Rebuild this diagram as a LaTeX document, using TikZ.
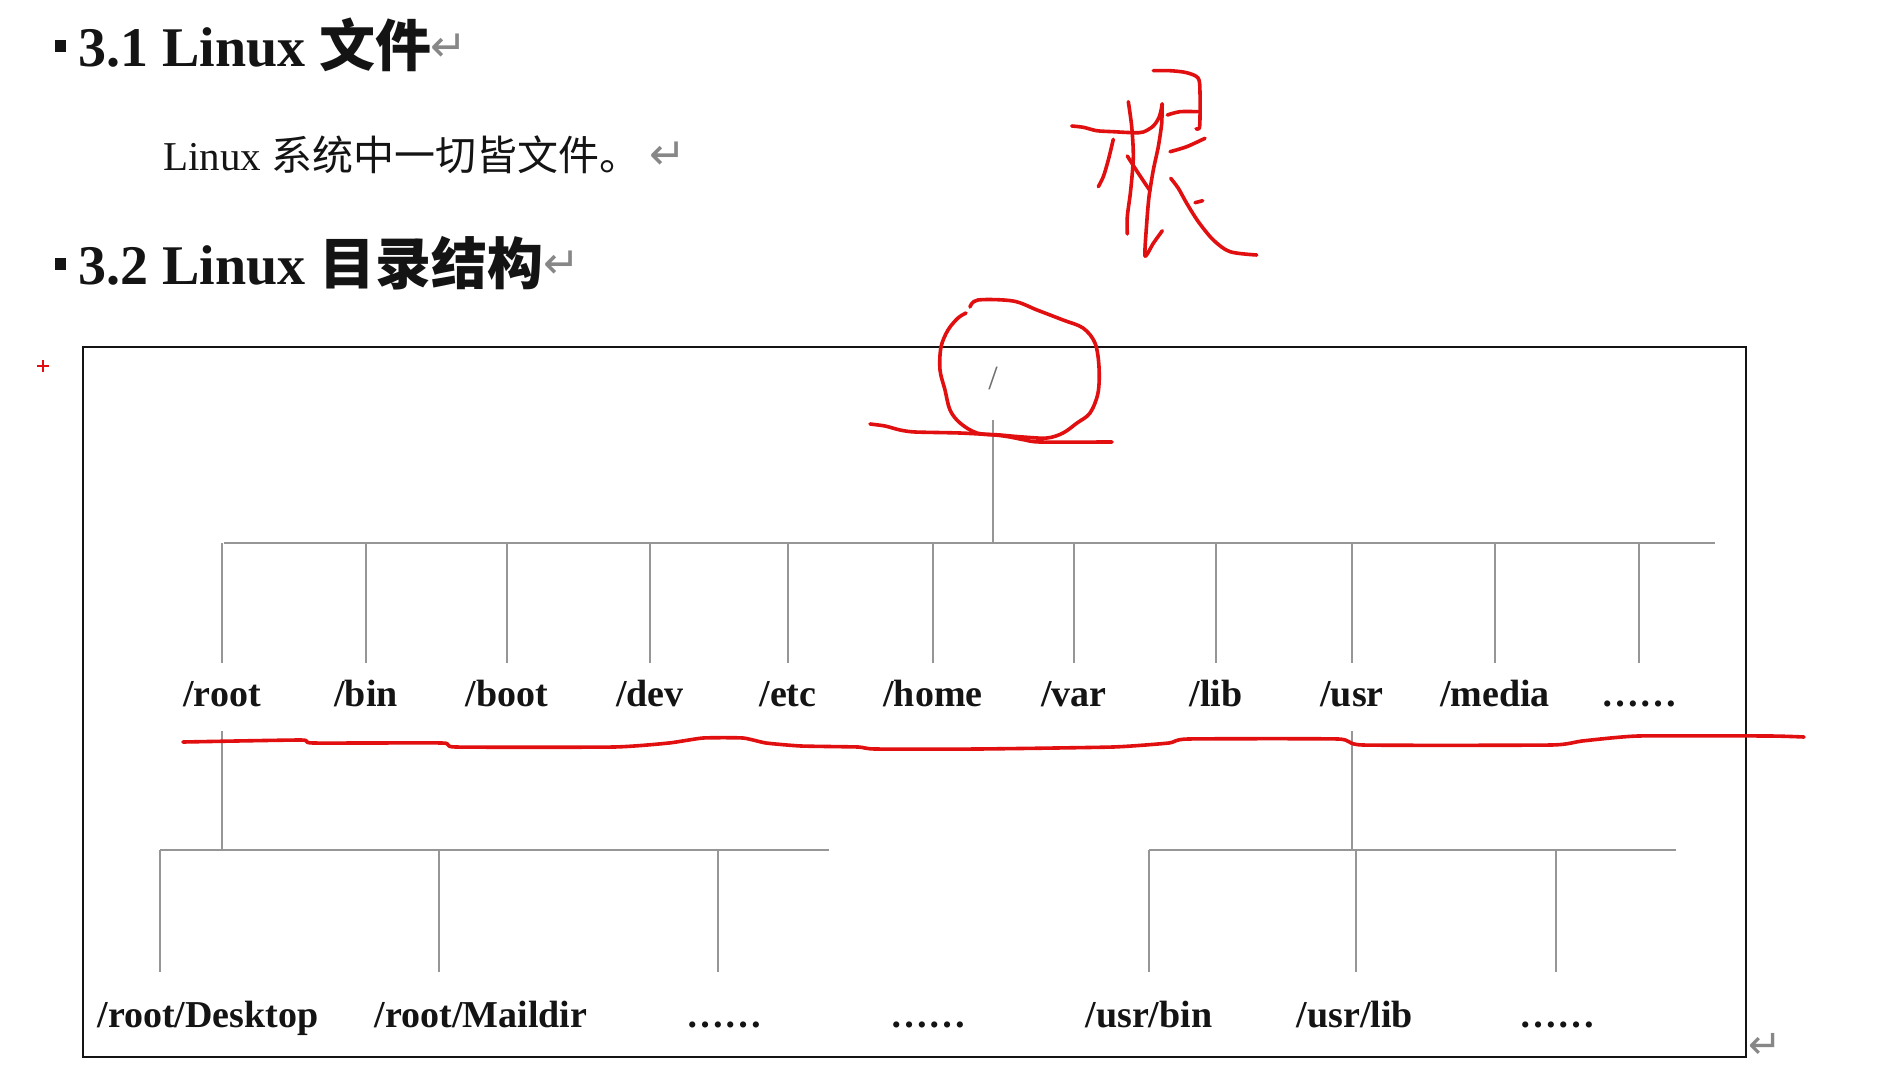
\documentclass[tikz,border=0pt]{standalone}
\usepackage{fontspec}
\setmainfont{Liberation Serif}
\newfontfamily\cjk{Noto Sans CJK SC}
\newfontfamily\symf{DejaVu Sans}
\definecolor{ink}{RGB}{20,20,20}
\definecolor{treegray}{RGB}{150,150,150}
\definecolor{penred}{RGB}{225,15,15}
\definecolor{retgray}{RGB}{135,135,135}
\definecolor{rootgray}{RGB}{110,110,110}
\begin{document}
\begin{tikzpicture}[x=1pt,y=-1pt,
  titletext/.style={anchor=base west, inner sep=0pt, text=ink, font=\fontsize{56}{60}\selectfont\bfseries},
  bodytext/.style={anchor=base west, inner sep=0pt, text=ink, font=\fontsize{41}{46}\selectfont},
  ret/.style={anchor=center, inner sep=0pt, text=retgray, font=\symf\fontsize{44}{46}\selectfont},
  lbl/.style={text=ink, font=\fontsize{38}{40}\selectfont\bfseries, text height=27pt, text depth=8pt, inner xsep=0pt, inner ysep=16.5pt},
  lbltwo/.style={lbl, inner ysep=28.5pt},
  conn/.style={draw=treegray, line width=1.6pt},
  pen/.style={draw=penred, line width=3.6pt, line cap=round, line join=round},
  bulletsq/.style={fill=ink, minimum width=11pt, minimum height=12pt, inner sep=0pt}
]
\useasboundingbox (0,0) rectangle (1881,1086);
\fill[white] (0,0) rectangle (1881,1086);

% headings
\node[bulletsq] (b1) at (60,46) {};
\node[titletext] (t1) at (78,67) {3.1 Linux {\cjk\bfseries 文件}};
\node[ret] (r1) at ([xshift=17pt,yshift=19pt]t1.base east) {↵};
\node[bodytext] (body) at (163,171) {Linux {\cjk 系统中一切皆文件。}};
\node[ret] (r2) at ([xshift=27pt,yshift=15pt]body.base east) {↵};
\node[bulletsq] (b2) at (60,264) {};
\node[titletext] (t2) at (78,284) {3.2 Linux {\cjk\bfseries 目录结构}};
\node[ret] (r3) at ([xshift=18pt,yshift=19pt]t2.base east) {↵};

% small red plus
\draw[draw=penred, line width=1.8pt] (37,366) -- (49,366) (43,360) -- (43,372);

% frame
\draw[draw=ink, line width=1.6pt] (83,347) rectangle (1746,1057);
\node[ret, font=\symf\fontsize{40}{42}\selectfont] (r4) at (1765,1046) {↵};

% root
\node[text=rootgray, font=\fontsize{34}{36}\selectfont, text height=26pt, text depth=7pt, inner xsep=0pt, inner ysep=23.5pt] (top) at (993,380) {/};

% first level
\node[lbl] (n-root)  at (222,697) {/root};
\node[lbl] (n-bin)   at (366,697) {/bin};
\node[lbl] (n-boot)  at (507,697) {/boot};
\node[lbl] (n-dev)   at (650,697) {/dev};
\node[lbl] (n-etc)   at (788,697) {/etc};
\node[lbl] (n-home)  at (933,697) {/home};
\node[lbl] (n-var)   at (1074,697) {/var};
\node[lbl] (n-lib)   at (1216,697) {/lib};
\node[lbl] (n-usr)   at (1352,697) {/usr};
\node[lbl] (n-media) at (1495,697) {/media};
\node[lbl] (n-more)  at (1639,697) {……};

\coordinate (busL) at (224,543);
\coordinate (busR) at (1715,543);
\draw[conn] (busL) -- (busR);
\draw[conn] (top.south) -- (top.south |- busL);
\foreach \n in {root,bin,boot,dev,etc,home,var,lib,usr,media,more}
  \draw[conn] (n-\n.north) -- (n-\n.north |- busL);

% second level under /root
\node[lbltwo] (desk) at (208,1018) {/root/Desktop};
\node[lbltwo] (mail) at (481,1018) {/root/Maildir};
\node[lbltwo] (rdots) at (724,1018) {……};
\node[lbltwo] (mdots) at (928,1018) {……};
\coordinate (rbL) at (160,850);
\coordinate (rbR) at (829,850);
\coordinate (rv2) at (439,850);
\coordinate (rv3) at (718,850);
\draw[conn] (rbL) -- (rbR);
\draw[conn] (n-root.south) -- (n-root.south |- rbL);
\draw[conn] (rbL) -- (rbL |- desk.north);
\draw[conn] (rv2) -- (rv2 |- mail.north);
\draw[conn] (rv3) -- (rv3 |- rdots.north);

% second level under /usr
\node[lbltwo] (ubin) at (1149,1018) {/usr/bin};
\node[lbltwo] (ulib) at (1355,1018) {/usr/lib};
\node[lbltwo] (udots) at (1557,1018) {……};
\coordinate (ubL) at (1149,850);
\coordinate (ubR) at (1676,850);
\coordinate (uv2) at (1356,850);
\coordinate (uv3) at (1556,850);
\draw[conn] (ubL) -- (ubR);
\draw[conn] (n-usr.south) -- (n-usr.south |- ubL);
\draw[conn] (ubL) -- (ubL |- ubin.north);
\draw[conn] (uv2) -- (uv2 |- ulib.north);
\draw[conn] (uv3) -- (uv3 |- udots.north);

% red handwriting: circle around root
\draw[pen] plot[smooth, tension=0.55] coordinates {(970,307) (978,300) (1013,301) (1037,310) (1063,320) (1083,328) (1095,343) (1099,367) (1098,393) (1090,413) (1077,423) (1063,433) (1047,438) (1023,437) (1000,435) (977,433) (960,423) (950,410) (945,390) (940,370) (941,347) (948,330) (958,318) (966,313)};
% underline below root
\draw[pen] plot[smooth, tension=0.4] coordinates {(870,424) (885,426) (900,430) (915,432) (960,433) (995,435) (1010,437) (1025,440) (1040,442) (1112,442)};
% long wavy line
\draw[pen] plot[smooth, tension=0.3] coordinates {(183,742) (301,740) (313,743) (442,743) (456,747) (614,747) (669,743) (703,738) (743,738) (766,743) (801,746) (858,747) (875,749) (978,749) (1113,747) (1169,743) (1188,739) (1338,739) (1363,745) (1551,745) (1582,741) (1638,736) (1770,736) (1804,737)};

% handwritten character
\draw[pen] plot[smooth, tension=0.5] coordinates {(1071.7,126) (1083.3,127.3) (1096.7,130.7) (1113.3,131.7) (1133.3,132.7) (1143.3,132) (1153.3,126) (1159.3,116.7) (1162.3,104)};
\draw[pen] plot[smooth, tension=0.4] coordinates {(1162,104) (1161.7,123.3) (1158.3,146.7) (1153.3,170) (1149,196.7) (1146.7,223.3) (1145,256) (1153.3,243.3) (1162.3,230.7)};
\draw[pen] plot[smooth, tension=0.5] coordinates {(1128.3,101.7) (1131.7,126.7) (1133.3,156.7) (1130.7,190) (1127.3,216.7) (1127.3,234)};
\draw[pen] plot[smooth, tension=0.5] coordinates {(1113.3,139.3) (1108.3,160) (1103.3,176.7) (1098.3,186.7)};
\draw[pen] plot[smooth, tension=0.5] coordinates {(1127.3,156) (1138.3,173.3) (1150,190.7)};
\draw[pen] plot[smooth, tension=0.5] coordinates {(1153.3,70.7) (1170,70.7) (1186.7,72.7) (1198.3,78.3) (1200,93.3) (1200,116.7) (1199.3,128.3) (1196,128.7)};
\draw[pen] plot[smooth, tension=0.5] coordinates {(1167.3,115) (1180,111.7) (1198.3,111.7)};
\draw[pen] plot[smooth, tension=0.5] coordinates {(1170,151.7) (1186.7,146.7) (1205,138.3)};
\draw[pen] plot[smooth, tension=0.5] coordinates {(1170.7,178.3) (1178.3,188.3) (1186.7,203.3) (1198.3,221.7) (1213.3,240) (1230,251.7) (1256.7,255)};
\draw[pen] (1195,202.7) -- (1202.7,200.7);
\end{tikzpicture}
\end{document}
